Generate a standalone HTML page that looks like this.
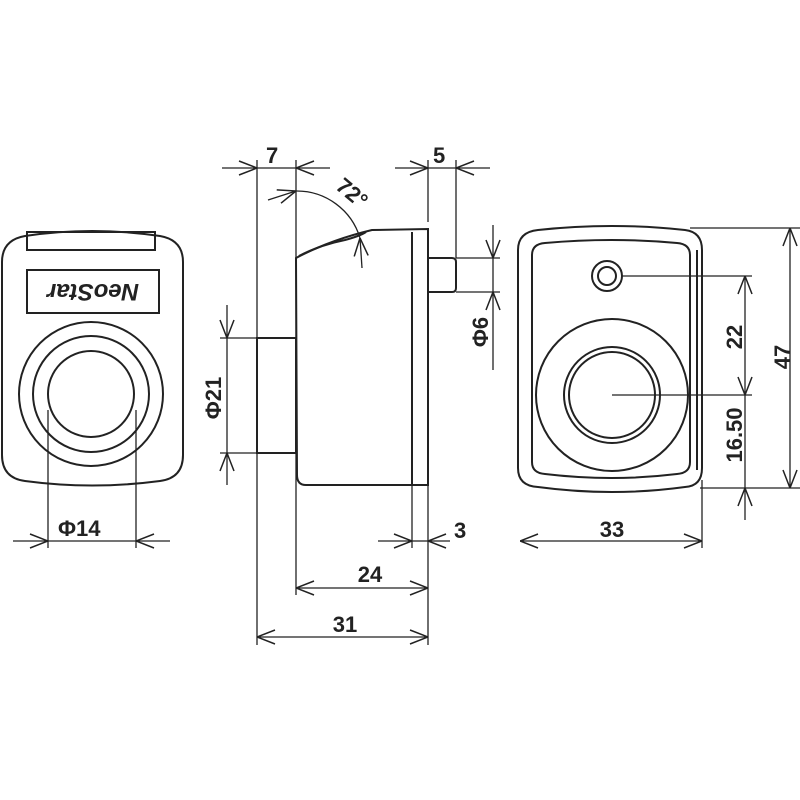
<!DOCTYPE html>
<html><head><style>html,body{margin:0;padding:0;background:#fff}svg{display:block}</style></head>
<body>
<svg width="800" height="800" viewBox="0 0 800 800" xmlns="http://www.w3.org/2000/svg" font-family="Liberation Sans, sans-serif" font-weight="bold" fill="none" stroke="#222">
<defs>
<marker id="a" viewBox="0 0 20 20" refX="20" refY="10" markerWidth="20" markerHeight="20" markerUnits="userSpaceOnUse" orient="auto-start-reverse">
<path d="M2 3 L20 10 L2 17" stroke="#222" stroke-width="1.5" fill="none"/>
</marker>
</defs>
<g stroke-width="2">
<!-- Left view -->
<path d="M2 262 Q2 240 25 236 Q92 226 160 236 Q183 240 183 262 L183 455 Q183 478 160 481 Q92 490 25 481 Q2 478 2 455 Z"/>
<rect x="27" y="232" width="128" height="18"/>
<rect x="27" y="270" width="132" height="43"/>
<circle cx="91" cy="394" r="72"/>
<circle cx="91" cy="394" r="58"/>
<circle cx="91" cy="394" r="43"/>
</g>
<text x="93" y="302" font-size="24" fill="#222" stroke="none" text-anchor="middle" font-style="italic" transform="rotate(180 93 293)">NeoStar</text>
<g stroke-width="1.3">
<line x1="48" y1="410" x2="48" y2="548"/>
<line x1="136" y1="410" x2="136" y2="548"/>
<line x1="13" y1="541" x2="48" y2="541" marker-end="url(#a)"/>
<line x1="48" y1="541" x2="136" y2="541"/>
<line x1="170" y1="541" x2="136" y2="541" marker-end="url(#a)"/>
</g>
<text x="58" y="536" font-size="22" fill="#222" stroke="none">Φ14</text>

<!-- Side view -->
<g stroke-width="2">
<path d="M296 258 Q330 240 372 230 L428 229 L428 485 L306 485 Q297 485 297 475 Z"/>
<line x1="412" y1="232" x2="412" y2="485"/>
<path d="M299 256 Q320 245 345 240 Q360 236 366 232"/>
<rect x="257" y="338" width="39" height="115"/>
<path d="M428 258 L452 258 Q456 258 456 262 L456 288 Q456 292 452 292 L428 292"/>
</g>
<g stroke-width="1.3">
<line x1="257" y1="160" x2="257" y2="645"/>
<line x1="296" y1="160" x2="296" y2="595"/>
<line x1="428" y1="160" x2="428" y2="222"/>
<line x1="456" y1="160" x2="456" y2="258"/>
<line x1="428" y1="485" x2="428" y2="645"/>
<line x1="412" y1="485" x2="412" y2="548"/>
<line x1="222" y1="168" x2="257" y2="168" marker-end="url(#a)"/>
<line x1="257" y1="168" x2="296" y2="168"/>
<line x1="330" y1="168" x2="296" y2="168" marker-end="url(#a)"/>
<line x1="395" y1="168" x2="428" y2="168" marker-end="url(#a)"/>
<line x1="428" y1="168" x2="456" y2="168"/>
<line x1="490" y1="168" x2="456" y2="168" marker-end="url(#a)"/>
<path d="M296 191 A66 66 0 0 1 360 238"/>
<line x1="268" y1="200" x2="296" y2="191" marker-end="url(#a)"/>
<line x1="362" y1="268" x2="360" y2="238" marker-end="url(#a)"/>
<line x1="456" y1="258" x2="500" y2="258"/>
<line x1="456" y1="292" x2="500" y2="292"/>
<line x1="493" y1="225" x2="493" y2="258" marker-end="url(#a)"/>
<line x1="493" y1="258" x2="493" y2="292"/>
<line x1="493" y1="370" x2="493" y2="292" marker-end="url(#a)"/>
<line x1="220" y1="338" x2="257" y2="338"/>
<line x1="220" y1="453" x2="257" y2="453"/>
<line x1="227" y1="305" x2="227" y2="338" marker-end="url(#a)"/>
<line x1="227" y1="338" x2="227" y2="453"/>
<line x1="227" y1="485" x2="227" y2="453" marker-end="url(#a)"/>
<line x1="378" y1="541" x2="412" y2="541" marker-end="url(#a)"/>
<line x1="412" y1="541" x2="428" y2="541"/>
<line x1="450" y1="541" x2="428" y2="541" marker-end="url(#a)"/>
<line x1="296" y1="588" x2="428" y2="588" marker-start="url(#a)" marker-end="url(#a)"/>
<line x1="257" y1="637" x2="428" y2="637" marker-start="url(#a)" marker-end="url(#a)"/>
</g>
<g fill="#222" stroke="none" font-size="22">
<text x="266" y="163">7</text>
<text x="433" y="163">5</text>
<text x="336" y="196" transform="rotate(40 346 190)">72°</text>
<text x="488" y="332" transform="rotate(-90 488 332)" text-anchor="middle">Φ6</text>
<text x="221" y="398" transform="rotate(-90 221 398)" text-anchor="middle">Φ21</text>
<text x="454" y="538">3</text>
<text x="370" y="582" text-anchor="middle">24</text>
<text x="345" y="632" text-anchor="middle">31</text>
</g>

<!-- Right view -->
<g stroke-width="2">
<path d="M518 250 Q518 232 538 230 Q612 222 685 230 Q702 232 702 250 L702 468 Q702 486 685 487 Q612 497 538 487 Q518 486 518 468 Z"/>
<path d="M532 255 Q532 244 545 243 Q612 237 677 243 Q690 244 690 255 L690 462 Q690 473 677 474 Q612 482 545 474 Q532 473 532 462 Z"/>
<line x1="697" y1="250" x2="697" y2="470"/>
<circle cx="607" cy="276" r="15"/>
<circle cx="607" cy="276" r="9"/>
<circle cx="612" cy="395" r="76"/>
<circle cx="612" cy="395" r="48"/>
<circle cx="612" cy="395" r="43"/>
</g>
<g stroke-width="1.3">
<line x1="622" y1="276" x2="752" y2="276"/>
<line x1="612" y1="395" x2="752" y2="395"/>
<line x1="690" y1="228" x2="800" y2="228"/>
<line x1="700" y1="488" x2="800" y2="488"/>
<line x1="702" y1="480" x2="702" y2="548"/>
<line x1="745" y1="276" x2="745" y2="395" marker-start="url(#a)" marker-end="url(#a)"/>
<line x1="745" y1="395" x2="745" y2="488"/>
<line x1="745" y1="520" x2="745" y2="488" marker-end="url(#a)"/>
<line x1="790" y1="228" x2="790" y2="488" marker-start="url(#a)" marker-end="url(#a)"/>
<line x1="520" y1="541" x2="702" y2="541" marker-start="url(#a)" marker-end="url(#a)"/>
</g>
<g fill="#222" stroke="none" font-size="22">
<text x="742" y="337" transform="rotate(-90 742 337)" text-anchor="middle">22</text>
<text x="742" y="435" transform="rotate(-90 742 435)" text-anchor="middle">16.50</text>
<text x="790" y="357" transform="rotate(-90 790 357)" text-anchor="middle">47</text>
<text x="612" y="537" text-anchor="middle">33</text>
</g>
</svg>
</body></html>
